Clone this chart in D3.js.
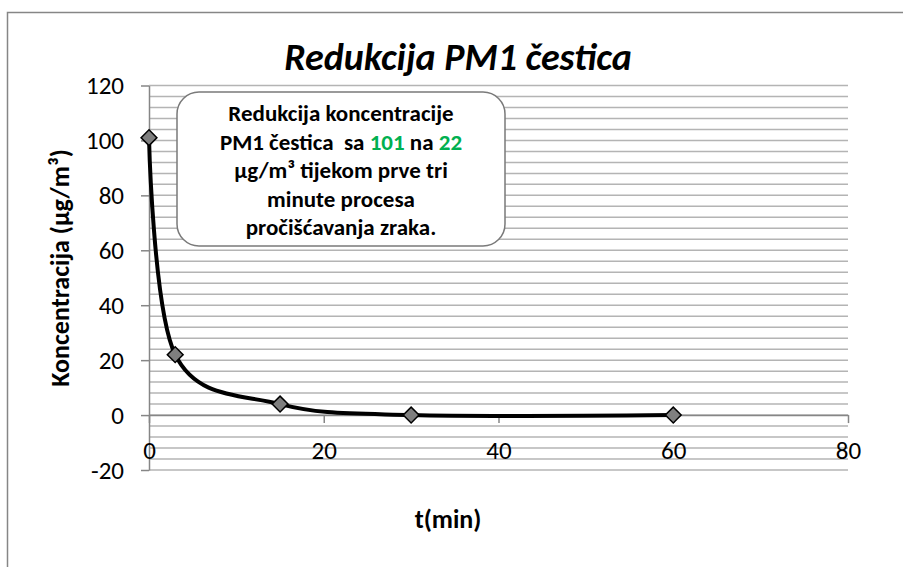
<!DOCTYPE html>
<html>
<head>
    <meta charset="utf-8">
    <title>Redukcija PM1 čestica</title>
    <script src="https://cdn.jsdelivr.net/npm/d3@7/dist/d3.min.js"></script>
    <style>
        body {
            margin: 0;
            background: white;
        }
        svg text {
            font-family: Calibri, Carlito, Lato, sans-serif;
        }
    </style>
</head>
<body>
    <div id="chart"></div>

    <script>
        // Data
        const times = [0, 3, 15, 30, 60];
        const concentrations = [101, 22, 4, 0, 0];
        const xTicks = [0, 20, 40, 60, 80];
        const yTicks = [-20, 0, 20, 40, 60, 80, 100, 120];
        const gridStep = 4;
        const noteLines = [
            [{t: "Redukcija koncentracije"}],
            [{t: "PM1 čestica\u00a0 sa "}, {t: "101", green: true}, {t: " na "}, {t: "22", green: true}],
            [{t: "µg/m³ tijekom prve tri"}],
            [{t: "minute procesa"}],
            [{t: "pročišćavanja zraka."}]
        ];

        const width = 903, height = 567;
        const tickFont = "25px";

        const svg = d3.select("#chart")
            .append("svg")
            .attr("width", width)
            .attr("height", height);

        // chart area border
        svg.append("rect")
            .attr("x", 7.5)
            .attr("y", 12.5)
            .attr("width", width)
            .attr("height", height)
            .attr("fill", "white")
            .attr("stroke", "#868686")
            .attr("stroke-width", 1.5);

        // Scales
        const x = d3.scaleLinear()
            .domain([0, 80])
            .range([149, 848]);

        const y = d3.scaleLinear()
            .domain([-20, 120])
            .range([470, 85.5]);

        // Horizontal gridlines every 4 units
        const gridValues = d3.range(-20, 120 + 0.1, gridStep);
        svg.append("g")
            .selectAll("line")
            .data(gridValues)
            .join("line")
            .attr("x1", x(0))
            .attr("x2", x(80))
            .attr("y1", d => y(d))
            .attr("y2", d => y(d))
            .attr("stroke", "#b4b4b4")
            .attr("stroke-width", 1.5);

        // Y axis
        const yAxis = svg.append("g")
            .attr("transform", `translate(${x(0)},0)`)
            .call(d3.axisLeft(y).tickValues(yTicks).tickFormat(d => String(d))
                .tickSize(8).tickPadding(17).tickSizeOuter(0));
        yAxis.select(".domain").attr("stroke", "#868686").attr("stroke-width", 1.5);
        yAxis.selectAll(".tick line").attr("stroke", "#868686").attr("stroke-width", 1.5);
        yAxis.selectAll(".tick text")
            .attr("fill", "#000")
            .style("font-size", tickFont);

        // X axis crossing at y = 0
        const xAxis = svg.append("g")
            .attr("transform", `translate(0,${y(0)})`)
            .call(d3.axisBottom(x).tickValues(xTicks).tickFormat(d => String(d))
                .tickSize(8).tickPadding(0).tickSizeOuter(0));
        xAxis.select(".domain").attr("stroke", "#868686").attr("stroke-width", 1.5);
        xAxis.selectAll(".tick line").attr("stroke", "#868686").attr("stroke-width", 1.5);
        xAxis.selectAll(".tick text")
            .attr("fill", "#000")
            .attr("y", 35)
            .attr("dy", 0)
            .attr("dominant-baseline", "central")
            .style("font-size", tickFont);

        // Smoothed line
        const pts = times.map((t, i) => [t, concentrations[i]]);
        const line = d3.line()
            .x(d => x(d[0]))
            .y(d => y(d[1]))
            .curve(d3.curveCardinal.tension(0));

        svg.append("path")
            .datum(pts)
            .attr("d", line)
            .attr("fill", "none")
            .attr("stroke", "#000")
            .attr("stroke-width", 4)
            .attr("stroke-linejoin", "round");

        // Diamond markers
        svg.append("g")
            .selectAll("path")
            .data(pts)
            .join("path")
            .attr("d", d3.symbol(d3.symbolSquare, 125))
            .attr("transform", d => `translate(${x(d[0])},${y(d[1])}) rotate(45)`)
            .attr("fill", "#7f7f7f")
            .attr("stroke", "#000")
            .attr("stroke-width", 1.5);

        // Annotation box
        svg.append("rect")
            .attr("x", 177)
            .attr("y", 92)
            .attr("width", 328)
            .attr("height", 154)
            .attr("rx", 22)
            .attr("fill", "white")
            .attr("stroke", "#7a7a7a")
            .attr("stroke-width", 1.5);

        const note = svg.append("text")
            .attr("text-anchor", "middle")
            .style("font-size", "23px")
            .style("font-weight", "bold");

        noteLines.forEach((segs, i) => {
            const row = note.append("tspan")
                .attr("x", 341)
                .attr("y", 121 + i * 28.5);
            segs.forEach(s => {
                row.append("tspan")
                    .attr("fill", s.green ? "#00b050" : "#000")
                    .text(s.t);
            });
        });

        // Title
        svg.append("text")
            .attr("x", 458)
            .attr("y", 70)
            .attr("text-anchor", "middle")
            .style("font-size", "38px")
            .style("font-weight", "bold")
            .style("font-style", "italic")
            .text("Redukcija PM1 čestica");

        // Axis titles
        svg.append("text")
            .attr("transform", `translate(69,268) rotate(-90)`)
            .attr("text-anchor", "middle")
            .style("font-size", "26px")
            .style("font-weight", "bold")
            .text("Koncentracija (µg/m³)");

        svg.append("text")
            .attr("x", 448)
            .attr("y", 528)
            .attr("text-anchor", "middle")
            .style("font-size", "26px")
            .style("font-weight", "bold")
            .text("t(min)");
    </script>
</body>
</html>
